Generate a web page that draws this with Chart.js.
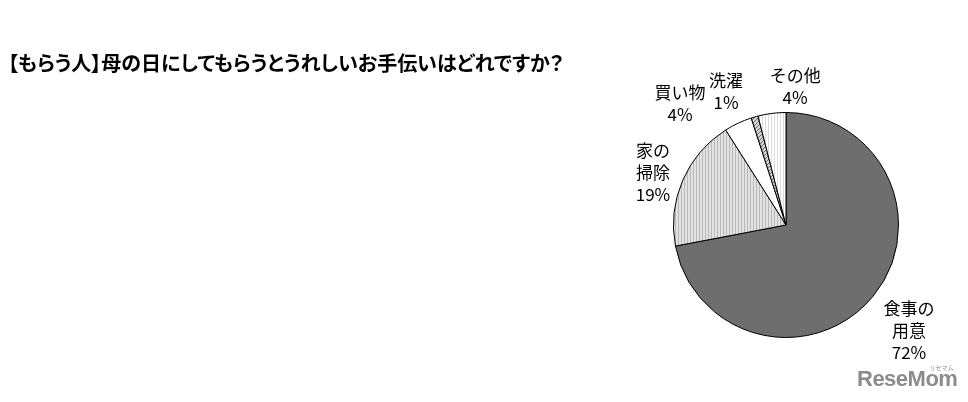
<!DOCTYPE html>
<html>
<head>
<meta charset="utf-8">
<script src="https://cdn.jsdelivr.net/npm/chart.js@4/dist/chart.umd.min.js"></script>
<style>
  body { margin: 0; background: #fff; }
  #wrap { position: relative; width: 968px; height: 402px; }
  #title { position: absolute; left: 8px; top: 51px; font: bold 20px "Noto Sans CJK JP", sans-serif; line-height: 24px; color: #000; white-space: nowrap; font-feature-settings: "palt"; }
  #logo { position: absolute; left: 857px; top: 366px; font: bold 22px "Liberation Sans", sans-serif; color: #8c8c8c; letter-spacing: -0.5px; }
  #logo small { position: absolute; right: 4px; top: -3px; font: 6px "Noto Sans CJK JP", sans-serif; letter-spacing: 0; }
</style>
</head>
<body>
<div id="wrap">
  <canvas id="myChart" width="968" height="402"></canvas>
  <div id="title">【もらう人】母の日にしてもらうとうれしいお手伝いはどれですか？</div>
  <div id="logo">ReseMom<small>リセマム</small></div>
</div>
<script>
// categories (line-wrapped as in the picture) and shares in %
var categories = [['食事の', '用意'], ['家の', '掃除'], ['買い物'], ['洗濯'], ['その他']];
var shares = [72, 19, 4, 1, 4];

// label placement: [angle shift in degrees, distance as multiple of radius]
var labelPlace = [[1, 1.44], [-2, 1.27], [-16, 1.43], [-8, 1.30], [11, 1.23]];

function makePattern(w, h, base, draw) {
    var c = document.createElement('canvas');
    c.width = w; c.height = h;
    var g = c.getContext('2d');
    g.fillStyle = base;
    g.fillRect(0, 0, w, h);
    draw(g);
    return document.getElementById('myChart').getContext('2d').createPattern(c, 'repeat');
}

var vStripeGray = makePattern(3, 3, '#e2e2e2', function (g) {
    g.fillStyle = '#b9b9b9'; g.fillRect(0, 0, 1, 3);
});
var hatch = makePattern(4, 4, '#d4d4d4', function (g) {
    g.strokeStyle = '#6a6a6a'; g.lineWidth = 1;
    g.beginPath(); g.moveTo(0, 4); g.lineTo(4, 0); g.stroke();
});
var vStripeWhite = makePattern(3, 3, '#ffffff', function (g) {
    g.fillStyle = '#dadada'; g.fillRect(0, 0, 1, 3);
});

var outsideLabels = {
    id: 'outsideLabels',
    afterDatasetsDraw: function (chart) {
        var ctx = chart.ctx;
        var arcs = chart.getDatasetMeta(0).data;
        ctx.save();
        ctx.font = '17px "Noto Sans CJK JP", sans-serif';
        ctx.fillStyle = '#000';
        ctx.textAlign = 'center';
        ctx.textBaseline = 'middle';
        arcs.forEach(function (arc, i) {
            var mid = (arc.startAngle + arc.endAngle) / 2 + labelPlace[i][0] * Math.PI / 180;
            var d = arc.outerRadius * labelPlace[i][1];
            var x = arc.x + Math.cos(mid) * d;
            var y = arc.y + Math.sin(mid) * d;
            var lines = categories[i].concat([shares[i] + '%']);
            var lh = 22;
            var y0 = y - (lines.length - 1) * lh / 2;
            lines.forEach(function (t, k) {
                ctx.fillText(t, x, y0 + k * lh);
            });
        });
        ctx.restore();
    }
};

var ctx = document.getElementById('myChart').getContext('2d');
var chart = new Chart(ctx, {
    type: 'pie',
    data: {
        labels: categories,
        datasets: [{
            data: shares,
            backgroundColor: ['#6e6e6e', vStripeGray, '#ffffff', hatch, vStripeWhite],
            borderColor: '#000',
            borderWidth: 1
        }]
    },
    options: {
        responsive: false,
        animation: false,
        layout: { padding: { top: 112, bottom: 64, left: 673, right: 69 } },
        plugins: {
            legend: { display: false },
            tooltip: { enabled: false }
        }
    },
    plugins: [outsideLabels]
});
</script>
</body>
</html>
